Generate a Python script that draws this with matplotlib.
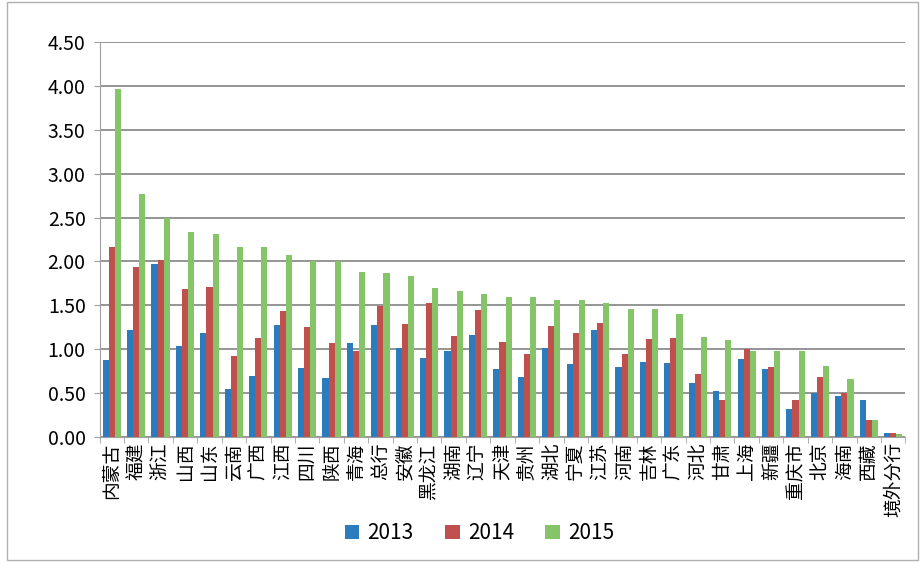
import matplotlib.pyplot as plt
import numpy as np

plt.rcParams['font.family'] = ['Noto Sans CJK SC', 'DejaVu Sans']

provinces = ["内蒙古", "福建", "浙江", "山西", "山东", "云南", "广西", "江西", "四川", "陕西",
             "青海", "总行", "安徽", "黑龙江", "湖南", "辽宁", "天津", "贵州", "湖北", "宁夏",
             "江苏", "河南", "吉林", "广东", "河北", "甘肃", "上海", "新疆", "重庆市", "北京",
             "海南", "西藏", "境外分行"]
v2013 = [0.88, 1.22, 1.97, 1.04, 1.18, 0.55, 0.69, 1.28, 0.79, 0.67,
         1.07, 1.28, 1.01, 0.90, 0.98, 1.16, 0.77, 0.68, 1.01, 0.83,
         1.22, 0.80, 0.85, 0.84, 0.61, 0.52, 0.89, 0.77, 0.32, 0.50,
         0.47, 0.42, 0.05]
v2014 = [2.16, 1.94, 2.02, 1.69, 1.71, 0.92, 1.13, 1.43, 1.25, 1.07,
         0.98, 1.49, 1.29, 1.53, 1.15, 1.45, 1.08, 0.95, 1.27, 1.18,
         1.30, 0.95, 1.12, 1.13, 0.72, 0.42, 1.00, 0.80, 0.42, 0.68,
         0.50, 0.19, 0.04]
v2015 = [3.97, 2.77, 2.50, 2.34, 2.31, 2.17, 2.17, 2.07, 2.00, 2.00,
         1.88, 1.87, 1.84, 1.70, 1.66, 1.63, 1.60, 1.60, 1.56, 1.56,
         1.53, 1.46, 1.46, 1.40, 1.14, 1.10, 0.98, 0.98, 0.98, 0.81,
         0.66, 0.19, 0.03]

years = ["2013", "2014", "2015"]
colors = ["#2b7bbd", "#c0504d", "#86c46a"]

fig = plt.figure(figsize=(9.22, 5.63), dpi=100)
# faint frame round the whole chart, as in the scanned original
fig.patches.append(plt.Rectangle((0.008, 0.006), 0.988, 0.99, transform=fig.transFigure,
                                 fill=False, edgecolor="#b0b0b0", linewidth=1))
ax = fig.add_axes([0.108, 0.224, 0.874, 0.701])

x = np.arange(len(provinces))
w = 0.25
for i, (vals, c) in enumerate(zip([v2013, v2014, v2015], colors)):
    ax.bar(x + (i - 1) * w, vals, width=w, color=c, label=years[i], zorder=3)

ax.set_xlim(-0.5, len(provinces) - 0.5)
ax.set_ylim(0, 4.5)
ax.set_yticks(np.arange(0, 4.51, 0.5))
ax.set_yticklabels(["%.2f" % t for t in np.arange(0, 4.51, 0.5)], fontsize=14)
ax.yaxis.grid(True, color="#8c8c8c", linewidth=1.3, zorder=0)

ax.set_xticks(x)
ax.set_xticklabels(provinces, rotation=90, fontsize=13.5, va="top")
ax.set_xticks(np.arange(-0.5, len(provinces), 1), minor=True)
ax.tick_params(axis="x", which="major", length=0, pad=4)
ax.tick_params(axis="x", which="minor", length=4, color="#a0a0a0")
ax.tick_params(axis="y", length=4, color="#a0a0a0", pad=6)

for s in ["top", "right"]:
    ax.spines[s].set_visible(False)
ax.spines["left"].set_color("#a0a0a0")
ax.spines["bottom"].set_color("#a0a0a0")

fig.legend(loc="lower center", bbox_to_anchor=(0.52, 0.0), ncol=3, frameon=False,
           fontsize=15, handlelength=0.7, handleheight=0.7, columnspacing=1.5,
           handletextpad=0.4)

fig.savefig("out.png", dpi=100)
